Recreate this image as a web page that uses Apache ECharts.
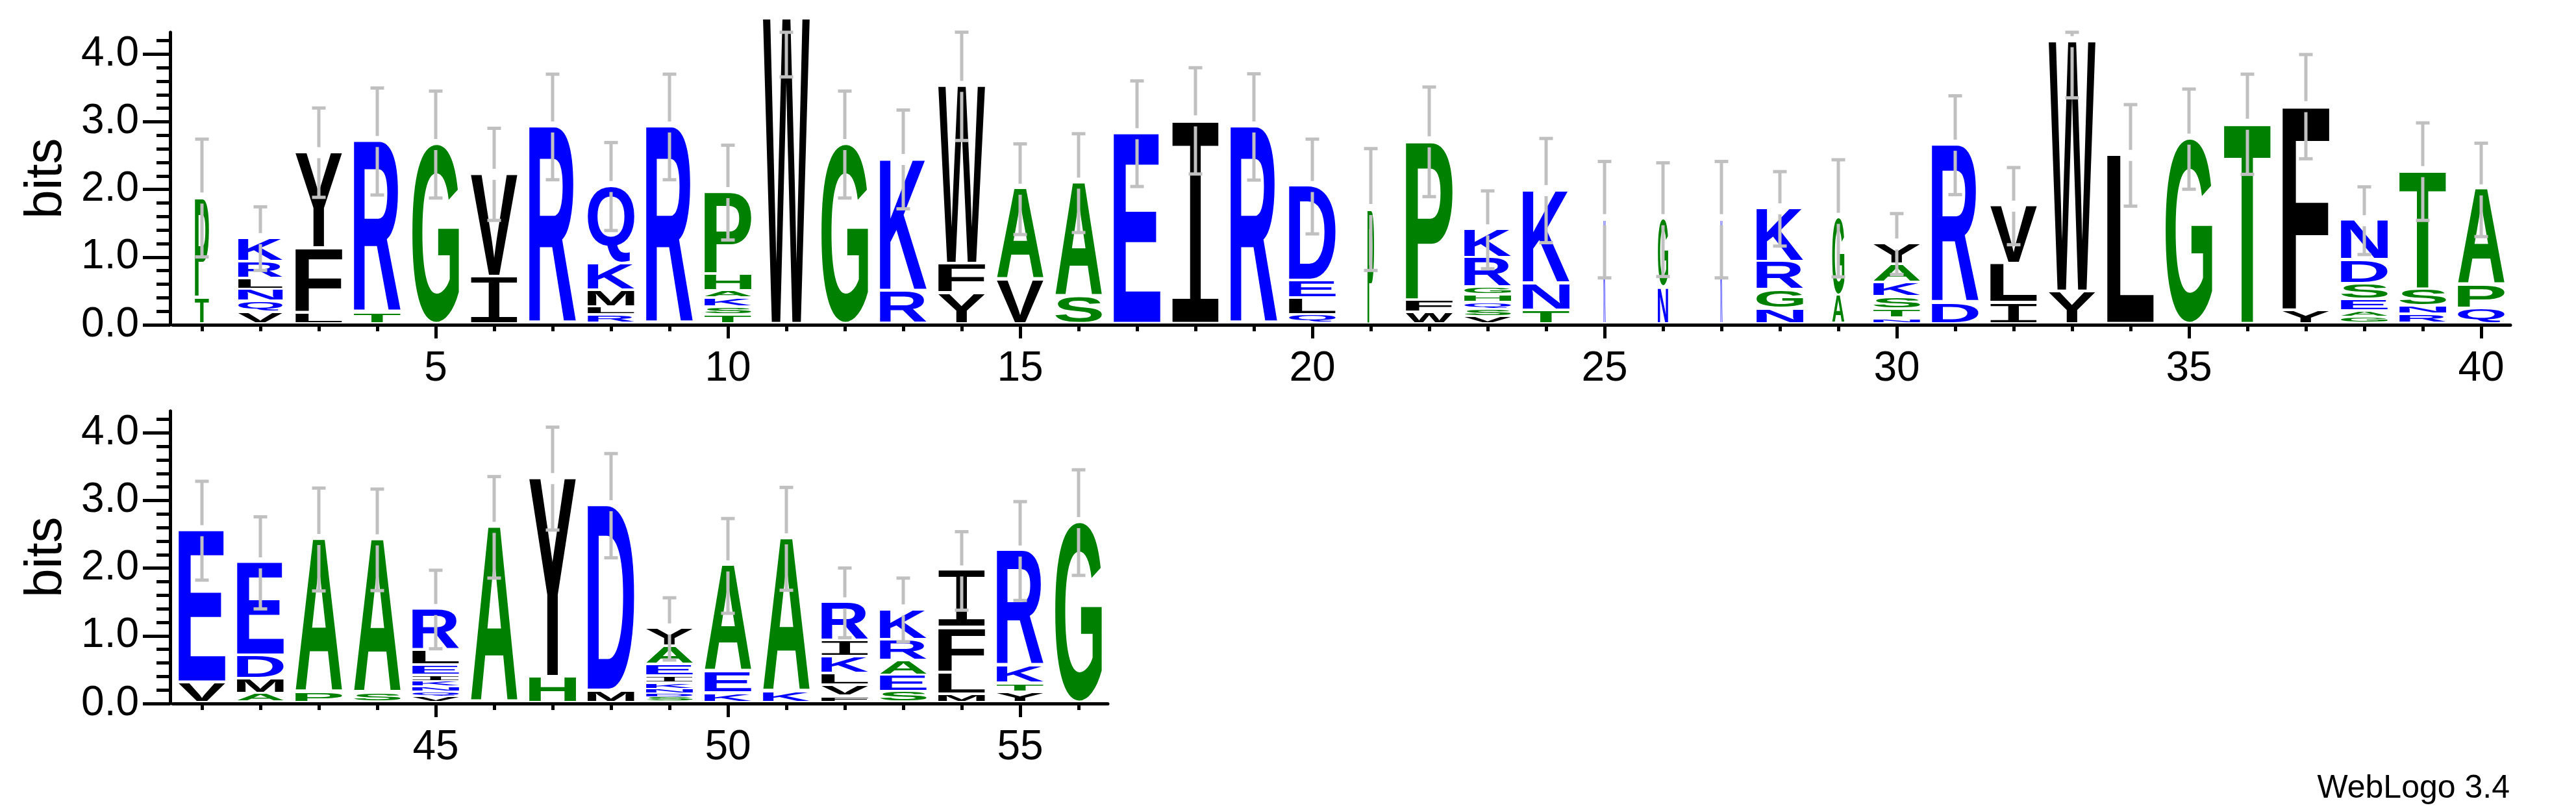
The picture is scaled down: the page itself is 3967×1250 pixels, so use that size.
<!DOCTYPE html>
<html><head><meta charset="utf-8">
<script src="https://cdn.jsdelivr.net/npm/echarts@6/dist/echarts.min.js"></script>
<style>html,body{margin:0;padding:0;background:#fff}#c{width:3967px;height:1250px}</style>
</head><body><div id="c"></div>
<script>
// ---- data (letters listed bottom -> top, heights in bits) ----
const stackLetters = [
  'TP','VQNLRK','LFY','TR','G','IV','R','RLMKQ','R','TSKAHP',
  'W','G','RK','YFW','VA','SA','E','I','R','QLED',
  'P','WFP','VSQHGRK','TNK','K','NG','K','NGRK','AG','NTSKAY',
  'DR','ILV','YW','L','G','T','YF','GAESDN','RNST','QPA',
  'VE','AMDE','PA','SA','VQNKIELR','A','HY','MD','SDNKIEAY','KEA',
  'KA','FVLKIR','SEARK','MLFI','YTKR','G'
];
const stackHeights = [
  [0.35,1.48],[0.13,0.16,0.18,0.16,0.25,0.35],[0.12,0.96,1.42],[0.125,2.54],[2.62],
  [0.66,1.52],[2.88],[0.09,0.12,0.25,0.39,1.15],[2.88],[0.10,0.11,0.14,0.10,0.25,1.21],
  [4.48],[2.62],[0.45,1.95],[0.42,0.43,2.63],[0.61,1.35],
  [0.37,1.68],[2.78],[2.97],[2.88],[0.09,0.25,0.26,1.40],
  [1.66],[0.13,0.18,2.35],[0.07,0.11,0.10,0.11,0.11,0.44,0.42],[0.16,0.40,1.38],[1.51],
  [0.50,1.01],[1.51],[0.18,0.28,0.42,0.79],[0.38,1.15],[0.04,0.14,0.18,0.21,0.27,0.31],
  [0.27,2.34],[0.27,0.58,0.86],[0.44,3.70],[2.46],[2.70],
  [2.92],[0.16,3.02],[0.065,0.08,0.17,0.24,0.35,0.59],[0.10,0.12,0.25,1.75],[0.19,0.34,1.42],
  [0.26,2.25],[0.095,0.22,0.34,1.38],[0.11,2.27],[0.105,2.27],
  [0.054,0.07,0.074,0.08,0.08,0.154,0.224,0.61],
  [2.56],[0.34,2.94],[0.14,2.74],[0.045,0.058,0.064,0.08,0.106,0.166,0.27,0.27],[0.10,0.32,1.57],
  [0.12,2.27],[0.054,0.16,0.17,0.25,0.24,0.57],[0.12,0.24,0.22,0.31,0.45],[0.086,0.32,0.66,0.85],
  [0.11,0.13,0.26,1.71],[2.63]
];
const errorHalf = [
  0.87,0.47,0.66,0.79,0.79,0.68,0.78,0.65,0.78,0.70,
  0.86,0.79,0.73,0.80,0.67,0.73,0.78,0.785,0.785,0.70,
  0.90,0.81,0.575,0.77,0.86,0.84,0.86,0.55,0.865,0.45,
  0.73,0.57,0.83,0.75,0.74,0.74,0.77,0.50,0.72,0.69,
  0.73,0.68,0.76,0.75,0.58,0.75,0.76,0.77,0.46,0.70,
  0.76,0.515,0.47,0.58,0.73,0.78
];
const coverage = [
  0.3,0.95,1,1,1,1,1,1,1,1,
  1,1,1,1,1,1,1,1,1,1,
  0.14,1,1,1,0.04,0.22,0.04,1,0.26,1,
  1,1,1,1,1,1,1,1,1,1,
  1,1,1,1,1,1,1,1,1,1,
  1,1,1,1,1,1
];
const yMajorTicks = [0,1,2,3,4];
const yMinorTicks = [0.2,0.4,0.6,0.8,1.2,1.4,1.6,1.8,2.2,2.4,2.6,2.8,3.2,3.4,3.6,3.8,4.2];
const xTicksTop = [1,2,3,4,5,6,7,8,9,10,11,12,13,14,15,16,17,18,19,20,21,22,23,24,25,26,27,28,29,30,31,32,33,34,35,36,37,38,39,40];
const xLabelsTop = [5,10,15,20,25,30,35,40];
const xTicksBottom = [41,42,43,44,45,46,47,48,49,50,51,52,53,54,55,56];
const xLabelsBottom = [45,50,55];
const Y_MAX = 4.3219;

// ---- style ----
const COLOR_GROUPS = {'#0000ff':'RKDENQ', '#008000':'SGHTAP', '#000000':'YVMCLFIW'};
function letterColor(ch){ for (const c in COLOR_GROUPS) if (COLOR_GROUPS[c].indexOf(ch) >= 0) return c; return '#000'; }
const FONT = 'bold 200px "Liberation Sans"';
const FONT_I = 'normal 200px "Liberation Mono"';
function fontFor(ch){ return ch === 'I' ? FONT_I : FONT; }
const AXIS_FONT = 'Liberation Sans';
const SHIFT = -4.5;
const mctx = document.createElement('canvas').getContext('2d');
const gcache = {};
function glyph(ch){
  if (!gcache[ch]) {
    mctx.font = fontFor(ch); mctx.textBaseline = 'middle'; mctx.textAlign = 'left';
    const m = mctx.measureText(ch);
    gcache[ch] = {l: m.actualBoundingBoxLeft, r: m.actualBoundingBoxRight, a: m.actualBoundingBoxAscent, d: m.actualBoundingBoxDescent};
  }
  return gcache[ch];
}

function buildItems(from, to){
  const items = [];
  for (let p = from; p <= to; p++) {
    const i = p - 1; let y = 0;
    const L = stackLetters[i], H = stackHeights[i];
    for (let k = 0; k < L.length; k++) {
      items.push({value: [p, y, y + H[k]], ch: L[k], level: k, cov: coverage[i]});
      y += H[k];
    }
  }
  return items;
}
function buildErr(from, to){
  const out = [];
  for (let p = from; p <= to; p++) {
    const tot = stackHeights[p-1].reduce((a,b)=>a+b,0);
    out.push([p, tot, errorHalf[p-1]]);
  }
  return out;
}

function letterRenderer(items){
  return function(params, api){
    const it = items[params.dataIndex];
    const pb = api.coord([it.value[0], it.value[1]]);
    const pt = api.coord([it.value[0], it.value[2]]);
    const step = api.size([1, 0])[0];
    const w = step * 0.8 * it.cov;
    let bottom = pb[1] + SHIFT; const top = pt[1] + SHIFT;
    if (it.level > 0) bottom -= Math.min(4, 0.3 * (bottom - top));
    const h = bottom - top;
    if (h < 0.4 || w < 0.5) return null;
    const g = glyph(it.ch);
    const sx = w / (g.l + g.r), sy = h / (g.a + g.d);
    return {
      type: 'text', silent: true,
      x: pb[0] - w / 2 + sx * g.l, y: top + sy * g.a, scaleX: sx, scaleY: sy,
      style: {text: it.ch, font: fontFor(it.ch), fill: letterColor(it.ch),
              align: 'left', verticalAlign: 'middle', textAlign: 'left', textVerticalAlign: 'middle', legacy: false}
    };
  };
}
function errRenderer(params, api){
  const p = api.value(0), tot = api.value(1), e = api.value(2);
  const c = api.coord([p, tot]);
  const yTop = c[1] + SHIFT;
  const yLo = api.coord([p, tot - e])[1] + SHIFT;
  const yHi = api.coord([p, Math.min(tot + e, Y_MAX)])[1] + (tot + e > Y_MAX ? 0 : SHIFT);
  const x = c[0], gap = 8.5, cap = 10.5;
  const st = {stroke: '#c0c0c0', lineWidth: 5};
  const ch = [];
  if (yTop - gap > yHi) ch.push({type:'line', shape:{x1:x, y1:yHi, x2:x, y2:yTop-gap}, style: st});
  const s2 = Math.max(yTop + gap, yHi);
  if (yLo > s2) ch.push({type:'line', shape:{x1:x, y1:s2, x2:x, y2:yLo}, style: st});
  ch.push({type:'line', shape:{x1:x-cap, y1:yHi, x2:x+cap, y2:yHi}, style: st});
  ch.push({type:'line', shape:{x1:x-cap, y1:yLo, x2:x+cap, y2:yLo}, style: st});
  return {type: 'group', silent: true, children: ch};
}

const lineSt = {color: '#000', width: 5};
function yAxes(gi){
  return [
    {gridIndex: gi, type: 'value', min: 0, max: Y_MAX, position: 'left', offset: 4,
     axisLine: {show: true, onZero: false, lineStyle: lineSt},
     axisTick: {show: true, length: 21, customValues: yMinorTicks, lineStyle: lineSt},
     axisLabel: {show: false}, splitLine: {show: false},
     name: 'bits', nameLocation: 'middle', nameRotate: 90, nameGap: 150,
     nameTextStyle: {fontSize: 80, fontFamily: AXIS_FONT, color: '#000'}},
    {gridIndex: gi, type: 'value', min: 0, max: Y_MAX, position: 'left', offset: 4,
     axisLine: {show: false},
     axisTick: {show: true, length: 42, customValues: yMajorTicks, lineStyle: lineSt},
     axisLabel: {show: true, customValues: yMajorTicks, formatter: v => Number(v).toFixed(1),
                 margin: 48, fontSize: 64, fontFamily: AXIS_FONT, color: '#000'},
     splitLine: {show: false}}
  ];
}
function xAxes(gi, lo, hi, ticks, labels){
  return [
    {gridIndex: gi, type: 'value', min: lo, max: hi, position: 'bottom',
     axisLine: {show: true, onZero: false, lineStyle: lineSt},
     axisTick: {show: true, length: 10, customValues: ticks, lineStyle: lineSt},
     axisLabel: {show: false}, splitLine: {show: false}},
    {gridIndex: gi, type: 'value', min: lo, max: hi, position: 'bottom',
     axisLine: {show: false, onZero: false},
     axisTick: {show: true, length: 21, customValues: labels, lineStyle: lineSt},
     axisLabel: {show: true, customValues: labels, margin: 36, fontSize: 64, fontFamily: AXIS_FONT, color: '#000'},
     splitLine: {show: false}}
  ];
}

const itemsTop = buildItems(1, 40), itemsBot = buildItems(41, 56);
const chart = echarts.init(document.getElementById('c'), null, {renderer: 'canvas'});
chart.setOption({
  animation: false,
  backgroundColor: '#ffffff',
  grid: [
    {left: 266, top: 49.7, width: 3600, height: 450.3, containLabel: false, outerBoundsMode: 'none'},
    {left: 266, top: 632.7, width: 1440, height: 450.3, containLabel: false, outerBoundsMode: 'none'}
  ],
  xAxis: [].concat(xAxes(0, 0.5, 40.5, xTicksTop, xLabelsTop), xAxes(1, 40.5, 56.5, xTicksBottom, xLabelsBottom)),
  yAxis: [].concat(yAxes(0), yAxes(1)),
  graphic: [{type: 'text', silent: true, x: 3865, y: 1214,
    style: {text: 'WebLogo 3.4', font: '50px "Liberation Sans"', fill: '#000', textAlign: 'right', textVerticalAlign: 'middle'}}],
  series: [
    {type: 'custom', xAxisIndex: 0, yAxisIndex: 0, clip: false, renderItem: letterRenderer(itemsTop),
     encode: {x: 0, y: [1, 2]}, data: itemsTop.map(d => d.value), z: 2},
    {type: 'custom', xAxisIndex: 2, yAxisIndex: 2, clip: false, renderItem: letterRenderer(itemsBot),
     encode: {x: 0, y: [1, 2]}, data: itemsBot.map(d => d.value), z: 2},
    {type: 'custom', xAxisIndex: 0, yAxisIndex: 0, clip: false, renderItem: errRenderer,
     encode: {x: 0, y: 1}, data: buildErr(1, 40), z: 3},
    {type: 'custom', xAxisIndex: 2, yAxisIndex: 2, clip: false, renderItem: errRenderer,
     encode: {x: 0, y: 1}, data: buildErr(41, 56), z: 3}
  ]
});
</script></body></html>
